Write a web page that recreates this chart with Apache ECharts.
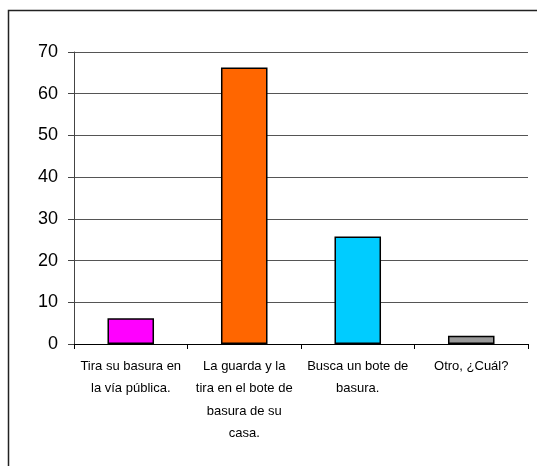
<!DOCTYPE html>
<html>
<head>
<meta charset="utf-8">
<script src="https://cdn.jsdelivr.net/npm/echarts@6/dist/echarts.min.js"></script>
<style>
  html, body { margin: 0; padding: 0; background: #fff; }
  #chart { width: 537px; height: 466px; }
</style>
</head>
<body>
<div id="chart"></div>
<script>
// categorias del eje x
var categorias = [
  'Tira su basura en\nla vía pública.',
  'La guarda y la\ntira en el bote de\nbasura de su\ncasa.',
  'Busca un bote de\nbasura.',
  'Otro, ¿Cuál?'
]
// porcentajes
var valores = [6.2, 66.3, 25.8, 2.0]
var colores = ['#ff00ff', '#ff6600', '#00ccff', '#999999']

var myChart = echarts.init(document.getElementById('chart'))

myChart.setOption({
  animation: false,
  graphic: [
    {
      // marco exterior (cortado a la derecha y abajo)
      type: 'rect',
      shape: { x: 8.5, y: 10.5, width: 600, height: 600 },
      style: { fill: 'none', stroke: '#222', lineWidth: 1.5 },
      silent: true
    }
  ],
  grid: { left: 74, right: 9, top: 52, bottom: 122 },
  xAxis: {
    type: 'category',
    data: categorias,
    axisLine: { lineStyle: { color: '#000', width: 1 } },
    axisTick: { show: true, length: 5, inside: false, lineStyle: { color: '#000' } },
    axisLabel: {
      interval: 0,
      margin: 11,
      fontFamily: 'Liberation Sans, Arial, sans-serif',
      fontSize: 13,
      lineHeight: 22.5,
      color: '#000'
    }
  },
  yAxis: {
    type: 'value',
    min: 0,
    max: 70,
    interval: 10,
    axisLine: { show: true, lineStyle: { color: '#444', width: 1 } },
    axisTick: { show: true, length: 6, lineStyle: { color: '#444' } },
    axisLabel: {
      margin: 16,
      fontFamily: 'Liberation Sans, Arial, sans-serif',
      fontSize: 18,
      color: '#000'
    },
    splitLine: { lineStyle: { color: '#555', width: 1 } }
  },
  series: [
    {
      type: 'bar',
      barWidth: '41%',
      data: valores.map(function (v, i) {
        return {
          value: v,
          itemStyle: { color: colores[i], borderColor: '#000', borderWidth: 1.5 }
        }
      })
    }
  ]
})
</script>
</body>
</html>
